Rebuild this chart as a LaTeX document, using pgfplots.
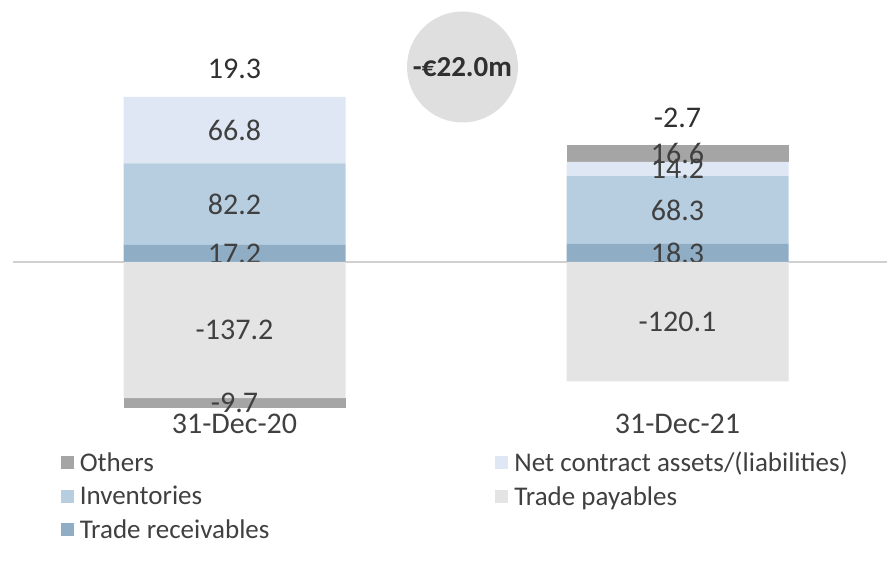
\documentclass[border=0pt]{standalone}
\usepackage{pgfplots}
\pgfplotsset{compat=1.18}
\usepackage{pgfplotstable}
\usepackage{fontspec}
\setmainfont{Carlito}

\definecolor{othgray}{HTML}{A5A5A5}
\definecolor{netblue}{HTML}{DEE7F3}
\definecolor{invblue}{HTML}{B7CEE1}
\definecolor{recblue}{HTML}{8FADC4}
\definecolor{paygray}{HTML}{E4E4E4}
\definecolor{linegray}{HTML}{D0D0D0}
\definecolor{txtgray}{HTML}{404040}
\definecolor{txtdark}{HTML}{303030}
\definecolor{circgray}{HTML}{DFDFDF}

% positive part of each bar, stacked upwards
\pgfplotstableread{
x rec  inv  net  oth
0 17.2 82.2 66.8 0
1 18.3 68.3 14.2 16.6
}\positive

% negative part, stacked downwards
\pgfplotstableread{
x pay    oth
0 -137.2 -9.7
1 -120.1 0
}\negative

% net total, shown above the top of each bar
\pgfplotstableread{
x top   total
0 166.2 19.3
1 117.4 -2.7
}\totals

\pgfplotsset{
  frame/.style={
    x=443pt, y=0.993pt,
    xmin=-0.5, xmax=1.473, ymin=-150, ymax=263,
    at={(13pt,160.05pt)}, anchor=south west,
    clip=false,
    axis line style={draw=none},
    major tick style={draw=none},
    every node near coord/.append style={font=\fontsize{30}{36}\selectfont, text=txtgray},
  },
  wcbase/.style={frame, ybar stacked, bar width=222pt},
  % stacked labels already sit mid-segment; nothing for a zero segment
  seg/.style={
    draw=none, fill=#1, forget plot,
    point meta=explicit symbolic,
    nodes near coords={\ifdim\pgfplotspointmeta pt=0pt \else\pgfplotspointmeta\fi},
    nodes near coords style={anchor=center},
  },
}

\begin{document}
\begin{tikzpicture}
\path[use as bounding box] (0pt,0pt) rectangle (887pt,571pt);

\begin{axis}[
  wcbase,
  xtick={0,1}, xticklabels={31-Dec-20,31-Dec-21},
  xticklabel style={font=\fontsize{30}{36}\selectfont, text=txtgray},
  ytick={0}, yticklabels={},
  ymajorgrids, major grid style={draw=linegray, line width=2pt},
  legend columns=2,
  legend cell align=left,
  legend image code/.code={\path[#1, draw=none] (0pt,-6.5pt) rectangle (13pt,6.5pt);},
  legend style={at={(axis description cs:0.051,-0.09)}, anchor=north west,
    draw=none, fill=none, font=\fontsize{27}{32}\selectfont, text=txtgray,
    row sep=9pt,
    /tikz/every odd column/.append style={column sep=4pt},
    /tikz/every even column/.append style={column sep=224pt}},
]
\addplot[seg=recblue] table[x=x, y=rec, meta=rec] {\positive};
\addplot[seg=invblue] table[x=x, y=inv, meta=inv] {\positive};
\addplot[seg=netblue] table[x=x, y=net, meta=net] {\positive};
\addplot[seg=othgray] table[x=x, y=oth, meta=oth] {\positive};

\addlegendimage{fill=othgray}\addlegendentry{Others}
\addlegendimage{fill=netblue}\addlegendentry{Net contract assets/(liabilities)}
\addlegendimage{fill=invblue}\addlegendentry{Inventories}
\addlegendimage{fill=paygray}\addlegendentry{Trade payables}
\addlegendimage{fill=recblue}\addlegendentry{Trade receivables}
\end{axis}

\begin{axis}[wcbase, hide axis]
\addplot[seg=paygray] table[x=x, y=pay, meta=pay] {\negative};
\addplot[seg=othgray] table[x=x, y=oth, meta=oth] {\negative};
\end{axis}

\begin{axis}[frame, hide axis]
\addplot[only marks, mark=*, mark size=0pt, draw=none,
  point meta=explicit symbolic,
  nodes near coords={\pgfplotspointmeta},
  nodes near coords style={anchor=center, yshift=28pt, text=txtdark}]
  table[x=x, y=top, meta=total] {\totals};
\end{axis}

\node[circle, fill=circgray, minimum size=111pt, inner sep=0pt, text=txtdark,
  font=\bfseries\fontsize{29}{34}\selectfont] at (462.5pt,504pt) {-€22.0m};
\end{tikzpicture}
\end{document}
